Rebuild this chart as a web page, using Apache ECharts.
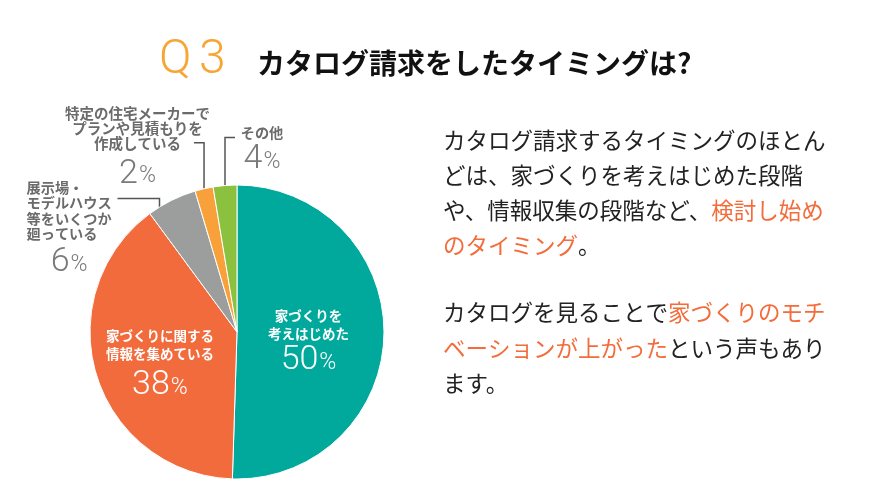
<!DOCTYPE html>
<html>
<head>
<meta charset="utf-8">
<script src="https://cdn.jsdelivr.net/npm/echarts@6/dist/echarts.min.js"></script>
<style>
html,body{margin:0;padding:0;background:#ffffff;}
#chart{width:888px;height:501px;}
</style>
</head>
<body>
<div id="chart"></div>
<script>
// ---- data ----
const categories = [
  '家づくりを\n考えはじめた',
  '家づくりに関する\n情報を集めている',
  '展示場・\nモデルハウス\n等をいくつか\n廻っている',
  '特定の住宅メーカーで\nプランや見積もりを\n作成している',
  'その他'
];
const sliceValues = [50.5, 39.4, 5.5, 2.0, 2.6];      // slice sizes as drawn
const percentLabels = ['50', '38', '6', '2', '4'];    // printed percentages
const sliceColors = ['#00a99c', '#f26b3d', '#9c9d9d', '#f8a13a', '#8cc13f'];

const titleQ = 'Q';
const titleNum = '3';
const titleText = 'カタログ請求をしたタイミングは?';
const para1 = [
  'カタログ請求するタイミングのほとん',
  'どは、家づくりを考えはじめた段階',
  'や、情報収集の段階など、{o|検討し始め}',
  '{o|のタイミング}。'
];
const para2 = [
  'カタログを見ることで{o|家づくりのモチ}',
  '{o|ベーションが上がった}という声もあり',
  'ます。'
];

// ---- styles ----
const JP = '"Noto Sans CJK JP", "Noto Sans", sans-serif';
const THIN = 'Roboto, "Noto Sans", sans-serif';
const ORANGE_TXT = '#f36c3a';

function labelText(i) {
  const lines = categories[i].split('\n').map(function (l) { return '{t|' + l + '}'; });
  return lines.join('\n') + '\n{n|' + percentLabels[i] + '}{p|%}';
}

function innerRich(numLh) {
  return {
    t: { color: '#ffffff', fontFamily: JP, fontWeight: 'bold', fontSize: 13.5, lineHeight: 18, align: 'center' },
    n: { color: '#ffffff', fontFamily: THIN, fontWeight: 300, fontSize: 34, lineHeight: numLh, align: 'center', verticalAlign: 'bottom' },
    p: { color: '#ffffff', fontFamily: THIN, fontWeight: 300, fontSize: 23, lineHeight: numLh, align: 'center', verticalAlign: 'bottom', padding: [0, 0, 3, 1] }
  };
}
function outerRich(fs, lh, numLh, lineAlign) {
  return {
    t: { color: '#6b6b6b', fontFamily: JP, fontWeight: 'bold', fontSize: fs, lineHeight: lh, align: lineAlign },
    n: { color: '#7a7a7a', fontFamily: THIN, fontWeight: 300, fontSize: 34, lineHeight: numLh, align: 'center', verticalAlign: 'bottom' },
    p: { color: '#7a7a7a', fontFamily: THIN, fontWeight: 300, fontSize: 23, lineHeight: numLh, align: 'center', verticalAlign: 'bottom', padding: [0, 0, 3, 1] }
  };
}

const lineStyle = { color: '#555555', width: 1.5 };

const itemLabelCfg = [
  { label: { position: 'inside', rich: innerRich(34) }, labelLine: { show: false } },
  { label: { position: 'inside', rich: innerRich(40) }, labelLine: { show: false } },
  { label: { position: 'outside', rich: outerRich(14.2, 15.5, 38, 'left') }, labelLine: { show: true, lineStyle: lineStyle } },
  { label: { position: 'outside', rich: outerRich(14.5, 15, 40, 'center') }, labelLine: { show: true, lineStyle: lineStyle } },
  { label: { position: 'outside', rich: outerRich(14.2, 15.5, 37, 'center') }, labelLine: { show: true, lineStyle: lineStyle } }
];

const pieData = categories.map(function (c, i) {
  return {
    name: c,
    value: sliceValues[i],
    itemStyle: { color: sliceColors[i] },
    label: itemLabelCfg[i].label,
    labelLine: itemLabelCfg[i].labelLine
  };
});

// label placement (layout only)
const innerShift = [[-5, 8], [-4, 9]];
const outerCfg = {
  2: { anchorShift: [-12, 11], rise: 13, run: -42, labelDx: -91, labelDy: -19, align: 'left' },
  3: { anchorShift: [0, 0], rise: 46, run: -10, labelDx: -56.5, labelDy: -36.5, align: 'center' },
  4: { anchorShift: [0, 0], rise: 48, run: 10, labelDx: 27, labelDy: -13, align: 'center' }
};

function layoutLabel(p) {
  const i = p.dataIndex;
  if (i < 2) {
    const r = p.labelRect;
    return {
      x: r.x + r.width / 2 + innerShift[i][0],
      y: r.y + r.height / 2 + innerShift[i][1],
      align: 'center',
      verticalAlign: 'middle'
    };
  }
  const cfg = outerCfg[i];
  const a0 = p.labelLinePoints && p.labelLinePoints[0];
  if (!a0) return {};
  const ax = a0[0] + cfg.anchorShift[0];
  const ay = a0[1] + cfg.anchorShift[1];
  const cy = ay - cfg.rise;
  const ex = ax + cfg.run;
  return {
    x: ex + cfg.labelDx,
    y: cy + cfg.labelDy,
    align: cfg.align,
    verticalAlign: 'top',
    labelLinePoints: [[ax, ay], [ax, cy], [ex, cy]]
  };
}

const chart = echarts.init(document.getElementById('chart'), null, { renderer: 'canvas' });
chart.setOption({
  backgroundColor: '#ffffff',
  animation: false,
  graphic: [
    {
      type: 'text', left: 159, top: 37,
      style: { text: titleQ, fill: '#f7a535', fontFamily: THIN, fontWeight: 300, fontSize: 48 }
    },
    {
      type: 'text', left: 199, top: 37,
      style: { text: titleNum, fill: '#f7a535', fontFamily: THIN, fontWeight: 300, fontSize: 48 }
    },
    {
      type: 'text', left: 257, top: 49,
      style: { text: titleText, fill: '#111111', fontFamily: JP, fontWeight: 'bold', fontSize: 28 }
    },
    {
      type: 'text', left: 443, top: 122.5,
      style: {
        text: para1.join('\n'), fill: '#222222', fontFamily: JP, fontSize: 22.5, lineHeight: 35,
        rich: { o: { fill: ORANGE_TXT, color: ORANGE_TXT, fontFamily: JP, fontSize: 22.5, lineHeight: 35 } }
      }
    },
    {
      type: 'text', left: 443, top: 295,
      style: {
        text: para2.join('\n'), fill: '#222222', fontFamily: JP, fontSize: 22.5, lineHeight: 35.5,
        rich: { o: { fill: ORANGE_TXT, color: ORANGE_TXT, fontFamily: JP, fontSize: 22.5, lineHeight: 35.5 } }
      }
    }
  ],
  series: [{
    type: 'pie',
    center: [237, 332],
    radius: [0, 147],
    startAngle: 90,
    clockwise: true,
    avoidLabelOverlap: false,
    silent: true,
    itemStyle: { borderColor: '#ffffff', borderWidth: 1 },
    label: {
      show: true,
      formatter: function (p) { return labelText(p.dataIndex); }
    },
    labelLine: { show: true, smooth: false, length: 10, length2: 10 },
    labelLayout: layoutLabel,
    data: pieData
  }]
});
</script>
</body>
</html>
